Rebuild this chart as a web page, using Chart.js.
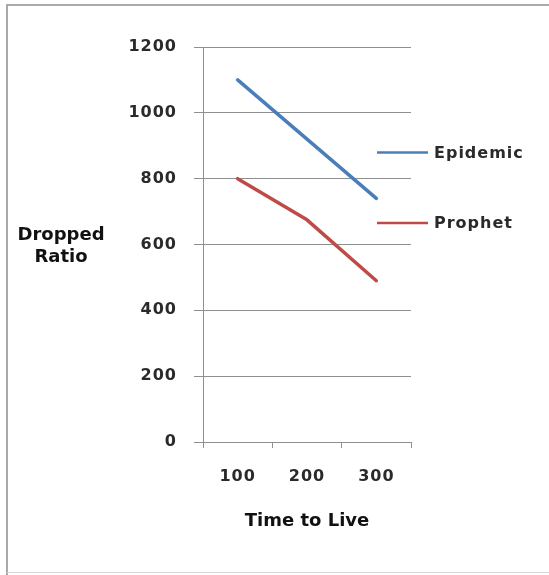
<!DOCTYPE html>
<html>
<head>
<meta charset="utf-8">
<script src="https://cdn.jsdelivr.net/npm/chart.js@4/dist/chart.umd.min.js"></script>
<style>
  html, body { margin: 0; padding: 0; background: #fff; }
  canvas { display: block; }
</style>
</head>
<body>
<canvas id="ttlChart" width="549" height="575"></canvas>
<script>
// values
const ttlLabels = ['100', '200', '300'];
const epidemicData = [1100, 920, 740];
const prophetData = [800, 675, 490];
const yTicks = [0, 200, 400, 600, 800, 1000, 1200];

const gridGray = '#8f8f8f';
const textGray = '#2a2a2a';

// frame, axis titles and the side legend
const decorPlugin = {
    id: 'decor',
    beforeDraw(chart) {
        chart.ctx.letterSpacing = '1px';
    },
    afterDraw(chart) {
        const ctx = chart.ctx;
        const area = chart.chartArea;
        ctx.save();
        ctx.letterSpacing = '0px';

        // outer frame
        ctx.strokeStyle = '#a9a9a9';
        ctx.lineWidth = 2;
        ctx.beginPath();
        ctx.moveTo(7, 575);
        ctx.lineTo(7, 5);
        ctx.lineTo(549, 5);
        ctx.stroke();
        ctx.strokeStyle = '#d6d6d6';
        ctx.lineWidth = 1;
        ctx.beginPath();
        ctx.moveTo(7, 572.5);
        ctx.lineTo(549, 572.5);
        ctx.stroke();

        // axis titles
        ctx.fillStyle = '#111';
        ctx.font = 'bold 18px "DejaVu Sans"';
        ctx.textAlign = 'center';
        ctx.textBaseline = 'alphabetic';
        ctx.fillText('Dropped', 61, 240);
        ctx.fillText('Ratio', 61, 262);
        ctx.fillText('Time to Live', (area.left + area.right) / 2, 526);

        // legend
        const legendY = [152.5, 223];
        ctx.letterSpacing = '1px';
        ctx.font = 'bold 16px "DejaVu Sans"';
        ctx.textAlign = 'left';
        ctx.textBaseline = 'middle';
        chart.data.datasets.forEach((ds, i) => {
            ctx.strokeStyle = ds.borderColor;
            ctx.lineWidth = 2.5;
            ctx.beginPath();
            ctx.moveTo(377, legendY[i]);
            ctx.lineTo(428, legendY[i]);
            ctx.stroke();
            ctx.fillStyle = textGray;
            ctx.fillText(ds.label, 434, legendY[i] + 1);
        });
        ctx.restore();
    }
};

const ctx = document.getElementById('ttlChart').getContext('2d');
const ttlChart = new Chart(ctx, {
    type: 'line',
    data: {
        labels: ttlLabels,
        datasets: [
            {
                label: 'Epidemic',
                data: epidemicData,
                borderColor: '#4a7ebb',
                borderWidth: 3.5,
                borderCapStyle: 'round',
                borderJoinStyle: 'round',
                pointRadius: 0,
                tension: 0
            },
            {
                label: 'Prophet',
                data: prophetData,
                borderColor: '#be4b48',
                borderWidth: 3.5,
                borderCapStyle: 'round',
                borderJoinStyle: 'round',
                pointRadius: 0,
                tension: 0
            }
        ]
    },
    options: {
        responsive: false,
        animation: false,
        devicePixelRatio: 1,
        layout: {
            padding: { left: 0, right: 138, top: 47, bottom: 0 }
        },
        plugins: {
            legend: { display: false },
            tooltip: { enabled: false }
        },
        scales: {
            x: {
                type: 'category',
                offset: true,
                grid: {
                    offset: true,
                    drawOnChartArea: false,
                    color: gridGray,
                    tickLength: 6
                },
                border: { color: gridGray, width: 1 },
                ticks: {
                    color: textGray,
                    font: { family: 'DejaVu Sans', size: 16, weight: 'bold' },
                    padding: 19,
                    maxRotation: 0
                },
                afterFit(scale) {
                    scale.height = 575 - 442;
                }
            },
            y: {
                min: 0,
                max: 1200,
                afterBuildTicks(scale) {
                    scale.ticks = yTicks.map(v => ({ value: v }));
                },
                grid: {
                    color: gridGray,
                    tickLength: 9
                },
                border: { color: gridGray, width: 1 },
                ticks: {
                    color: textGray,
                    font: { family: 'DejaVu Sans', size: 16, weight: 'bold' },
                    padding: 17,
                    callback: v => String(v)
                },
                afterFit(scale) {
                    scale.width = 203;
                }
            }
        }
    },
    plugins: [decorPlugin]
});
</script>
</body>
</html>
